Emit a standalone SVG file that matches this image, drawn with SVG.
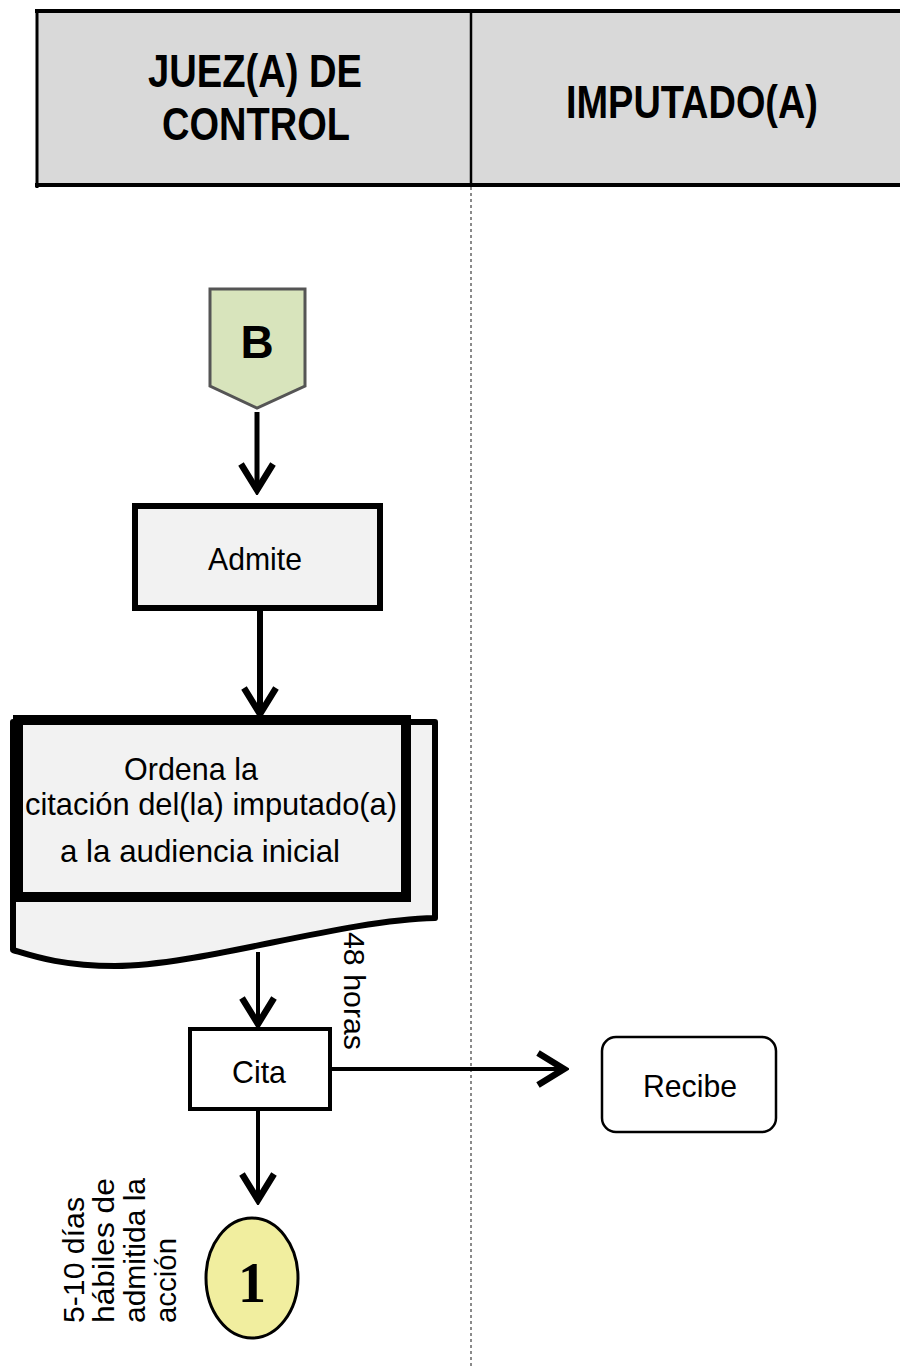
<svg xmlns="http://www.w3.org/2000/svg" width="900" height="1366" viewBox="0 0 900 1366">
<style>
.t{font-family:"Liberation Sans",Arial,sans-serif;fill:#000}
.h{font-family:"Liberation Sans",Arial,sans-serif;font-weight:bold;font-size:46px;text-anchor:middle;fill:#000}
.c{text-anchor:middle;font-size:32px}
.conn{stroke:#000;fill:none}
</style>
<defs>
<marker id="arr" viewBox="0 0 38 42" refX="33" refY="21" markerWidth="38" markerHeight="42" markerUnits="userSpaceOnUse" orient="auto">
<path d="M7,5 L33,21 L7,37" fill="none" stroke="#000" stroke-width="6.5"/>
</marker>
</defs>
<rect width="900" height="1366" fill="#fff"/>
<g id="header">
<rect x="37" y="11" width="870" height="174" fill="#d9d9d9"/>
<line x1="35" y1="11" x2="900" y2="11" stroke="#000" stroke-width="4"/>
<line x1="35" y1="185" x2="900" y2="185" stroke="#000" stroke-width="4"/>
<line x1="37" y1="11" x2="37" y2="188" stroke="#000" stroke-width="3"/>
<line x1="471" y1="11" x2="471" y2="186" stroke="#000" stroke-width="2.5"/>
<text class="h" x="255" y="87" textLength="214" lengthAdjust="spacingAndGlyphs">JUEZ(A) DE</text>
<text class="h" x="256" y="140" textLength="188" lengthAdjust="spacingAndGlyphs">CONTROL</text>
<text class="h" x="692" y="118" textLength="252" lengthAdjust="spacingAndGlyphs">IMPUTADO(A)</text>
</g>
<line id="lane-divider" x1="471" y1="187" x2="471" y2="1366" stroke="#8a8a8a" stroke-width="2" stroke-dasharray="3,3"/>
<g id="connectors">
<line class="conn" x1="257" y1="412" x2="257" y2="490" stroke-width="5" marker-end="url(#arr)"/>
<line class="conn" x1="260" y1="611" x2="260" y2="714" stroke-width="6" marker-end="url(#arr)"/>
<line class="conn" x1="258" y1="952" x2="258" y2="1024" stroke-width="4" marker-end="url(#arr)"/>
<line class="conn" x1="332" y1="1069" x2="564" y2="1069" stroke-width="4" marker-end="url(#arr)"/>
<line class="conn" x1="258" y1="1111" x2="258" y2="1200" stroke-width="4" marker-end="url(#arr)"/>
</g>
<g id="B">
<polygon points="210,289 305,289 305,386 257,408 210,386" fill="#d8e4bc" stroke="#555" stroke-width="3"/>
<text class="t" x="257" y="358" font-size="46" font-weight="bold" text-anchor="middle">B</text>
</g>
<g id="admite">
<rect x="135" y="506" width="245" height="102" fill="#f2f2f2" stroke="#000" stroke-width="6"/>
<text class="t c" x="255" y="570" textLength="94" lengthAdjust="spacingAndGlyphs">Admite</text>
</g>
<g id="ordena">
<path d="M13,722 H435 V918 C340,920 200,966 115,966 C60,966 30,955 13,950 Z" fill="#f2f2f2" stroke="#000" stroke-width="6" stroke-linejoin="round"/>
<rect x="18" y="720" width="388" height="177" fill="#f2f2f2" stroke="#000" stroke-width="10"/>
<text class="t c" x="191" y="780" textLength="134" lengthAdjust="spacingAndGlyphs">Ordena la</text>
<text class="t c" x="211" y="815" textLength="372" lengthAdjust="spacingAndGlyphs">citación del(la) imputado(a)</text>
<text class="t c" x="200" y="862" textLength="280" lengthAdjust="spacingAndGlyphs">a la audiencia  inicial</text>
</g>
<text id="label-48" class="t" font-size="30" transform="translate(344,932) rotate(90)" textLength="118" lengthAdjust="spacingAndGlyphs">48 horas</text>
<g id="cita">
<rect x="190" y="1029" width="140" height="80" fill="#fff" stroke="#000" stroke-width="4"/>
<text class="t c" x="259" y="1083" textLength="54" lengthAdjust="spacingAndGlyphs">Cita</text>
</g>
<g id="recibe">
<rect x="602" y="1037" width="174" height="95" rx="14" fill="#fff" stroke="#000" stroke-width="2.5"/>
<text class="t c" x="690" y="1097" textLength="94" lengthAdjust="spacingAndGlyphs">Recibe</text>
</g>
<g id="c1">
<ellipse cx="252" cy="1278" rx="46" ry="60" fill="#f1ee9f" stroke="#000" stroke-width="3"/>
<text x="252" y="1302" font-family="'Liberation Serif','Times New Roman',serif" font-weight="bold" font-size="56" text-anchor="middle">1</text>
</g>
<g id="label-dias" class="t" font-size="30">
<text transform="translate(84,1323) rotate(-90)" textLength="126" lengthAdjust="spacingAndGlyphs">5-10 días</text>
<text transform="translate(114,1323) rotate(-90)" textLength="145" lengthAdjust="spacingAndGlyphs">hábiles de</text>
<text transform="translate(145,1323) rotate(-90)" textLength="145" lengthAdjust="spacingAndGlyphs">admitida la</text>
<text transform="translate(176,1323) rotate(-90)" textLength="85" lengthAdjust="spacingAndGlyphs">acción</text>
</g>
</svg>
